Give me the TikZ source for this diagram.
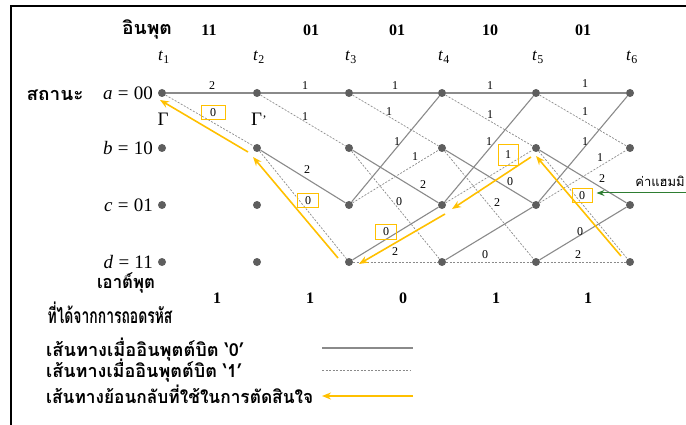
\documentclass[tikz,border=0pt]{standalone}
\usepackage{fontspec}
\usepackage{graphicx}
\setmainfont{Liberation Serif}
\newfontfamily\thai[Script=Thai]{Loma}
\usetikzlibrary{arrows.meta,calc}
\definecolor{edgegray}{HTML}{8A8A8A}
\definecolor{dotgray}{HTML}{5E5E5E}
\definecolor{backorange}{HTML}{FFC000}
\definecolor{markgreen}{HTML}{2E7D32}
% set a text to a given width, keeping its natural height
\newcommand{\fitto}[2]{\resizebox{#1}{\height}{#2}}
\begin{document}
\begin{tikzpicture}[x=1pt,y=-1pt,
  dot/.style={circle,fill=dotgray,inner sep=0pt,minimum size=8pt},
  zero/.style={draw=edgegray,line width=1.1pt},
  one/.style={draw=edgegray,line width=0.7pt,dash pattern=on 2pt off 1.5pt},
  back/.style={draw=backorange,line width=1.6pt,-{Stealth[length=9pt,width=7pt]}},
  lbl/.style={font=\fontsize{12}{12}\selectfont,inner sep=0pt},
  boxlbl/.style={draw=backorange,line width=1pt,font=\fontsize{12}{12}\selectfont,
    minimum width=21pt,minimum height=14pt,inner sep=0pt},
  bitin/.style={font=\fontsize{16}{16}\selectfont\bfseries,inner sep=0pt},
  tlab/.style={font=\fontsize{17}{17}\selectfont,inner sep=0pt},
  state/.style={font=\fontsize{19}{19}\selectfont,inner sep=0pt,anchor=east},
  thaibold/.style={font=\fontsize{18}{18}\selectfont\thai\bfseries,inner sep=0pt}]
\useasboundingbox (0,0) rectangle (686,425);
\clip (0,0) rectangle (686,425);

% outer frame (top and left rules)
\draw[line width=2pt] (11,425) -- (11,6) -- (686,6);

% trellis nodes
\foreach \k/\x in {1/162,2/257,3/349,4/442,5/536,6/630}{
  \node[dot] (a\k) at (\x,93) {};
  \node[dot] (b\k) at (\x,148) {};
  \node[dot] (c\k) at (\x,205) {};
  \node[dot] (d\k) at (\x,262) {};
  \node[tlab] (t\k) at (\x+2,57) {\textit{t}\textsubscript{\k}};
}

% branches: solid = input bit 0, dashed = input bit 1
\draw[zero] (a1) -- (a2);
\draw[one]  (a1) -- (b2);
\draw[zero] (a2) -- (a3);
\draw[one]  (a2) -- (b3);
\draw[zero] (b2) -- (c3);
\draw[one]  (b2) -- (d3);
\foreach \k/\n in {3/4,4/5,5/6}{
  \draw[zero] (a\k) -- (a\n);
  \draw[one]  (a\k) -- (b\n);
  \draw[zero] (b\k) -- (c\n);
  \draw[one]  (b\k) -- (d\n);
  \draw[zero] (c\k) -- (a\n);
  \draw[one]  (c\k) -- (b\n);
  \draw[zero] (d\k) -- (c\n);
  \draw[one]  (d\k) -- (d\n);
}

% branch metrics
\node[lbl] (m12aa) at (212,86) {2};
\node[boxlbl,minimum width=24pt] (m12ab) at (213,113) {0};
\node[lbl] (m23aa) at (305,86) {1};
\node[lbl] (m23ab) at (305,117) {1};
\node[lbl] (m23bc) at (307,170) {2};
\node[boxlbl] (m23bd) at (308,201) {0};
\node[lbl] (m34aa) at (395,86) {1};
\node[lbl] (m34ab) at (389,112) {1};
\node[lbl] (m34ca) at (397,142) {1};
\node[lbl] (m34cb) at (415,157) {1};
\node[lbl] (m34bc) at (423,185) {2};
\node[lbl] (m34bd) at (399,202) {0};
\node[boxlbl] (m34dc) at (386,232) {0};
\node[lbl] (m34dd) at (395,252) {2};
\node[lbl] (m45aa) at (490,86) {1};
\node[lbl] (m45ab) at (490,115) {1};
\node[lbl] (m45ca) at (489,142) {1};
\node[boxlbl,minimum width=20pt,minimum height=21pt] (m45cb) at (508,155) {1};
\node[lbl] (m45bc) at (510,182) {0};
\node[lbl] (m45bd) at (497,203) {2};
\node[lbl] (m45dd) at (485,255) {0};
\node[lbl] (m56aa) at (585,84) {1};
\node[lbl] (m56ab) at (585,112) {1};
\node[lbl] (m56ca) at (585,142) {1};
\node[lbl] (m56cb) at (600,158) {1};
\node[lbl] (m56bc) at (602,179) {2};
\node[boxlbl,minimum width=20pt] (m56bd) at (582,196) {0};
\node[lbl] (m56dc) at (580,232) {0};
\node[lbl] (m56dd) at (578,255) {2};

% traceback path
\draw[back] ([shift={(-9pt,6pt)}]d6.center) -- ([shift={(0pt,-8pt)}]b5.center);
\draw[back] ([shift={(-5pt,-9pt)}]b5.center) -- ([shift={(10pt,-4pt)}]c4.center);
\draw[back] ([shift={(3pt,-9pt)}]c4.center) -- ([shift={(10pt,-2pt)}]d3.center);
\draw[back] ([shift={(-11pt,4pt)}]d3.center) -- ([shift={(-4pt,-9pt)}]b2.center);
\draw[back] ([shift={(-9pt,-4pt)}]b2.center) -- ([shift={(-2pt,-7pt)}]a1.center);

% Gamma marks
\node[font=\fontsize{19}{19}\selectfont,inner sep=0pt] (g1) at (163,119) {Γ};
\node[font=\fontsize{19}{19}\selectfont,inner sep=0pt] (g2) at (259,119) {Γ\kern0.3pt\raisebox{1pt}{\fontsize{13}{13}\selectfont'}};

% input sequence
\node[thaibold] (inlab) at (147,29) {\fitto{50pt}{อินพุต}};
\foreach \x/\v [count=\i] in {209/11,311/01,397/01,490/10,583/01}
  \node[bitin] (in\i) at (\x,30) {\v};

% state names
\node[thaibold] (stlab) at (55,95) {\fitto{57pt}{สถานะ}};
\node[state] (sa) at (153,93) {\textit{a}\;=\;00};
\node[state] (sb) at (153,148) {\textit{b}\;=\;10};
\node[state] (sc) at (153,205) {\textit{c}\;=\;01};
\node[state] (sd) at (153,262) {\textit{d}\;=\;11};
\node[font=\fontsize{6}{6}\selectfont\itshape,inner sep=0pt] (sdmark) at (126,276) {d};

% decoded output
\node[thaibold] (outlab1) at (126,283) {\fitto{58pt}{เอาต์พุต}};
\node[thaibold,font=\fontsize{21}{21}\selectfont\thai\bfseries] (outlab2) at (110,313) {\fitto{125pt}{ที่ได้จากการถอดรหัส}};
\foreach \x/\v [count=\i] in {217/1,310/1,403/0,496/1,588/1}
  \node[bitin] (out\i) at (\x,298) {\v};

% legend
\node[thaibold,anchor=west] (leg0) at (46,350) {\fitto{198pt}{เส้นทางเมื่ออินพุตต์บิต ‘0’}};
\node[thaibold,anchor=west] (leg1) at (46,371) {\fitto{196pt}{เส้นทางเมื่ออินพุตต์บิต ‘1’}};
\node[thaibold,anchor=west] (leg2) at (46,394) {\fitto{267pt}{เส้นทางย้อนกลับที่ใช้ในการตัดสินใจ}};
\coordinate (k0a) at (322,348);
\coordinate (k0b) at (413,348);
\coordinate (k1a) at (322,370);
\coordinate (k1b) at (410,370);
\coordinate (k2a) at (413,396);
\coordinate (k2b) at (322,396);
\draw[zero] (k0a) -- (k0b);
\draw[one] (k1a) -- (k1b);
\draw[back] (k2a) -- (k2b);

% accumulated Hamming distance marker
\coordinate (gstart) at (690,193);
\node[font=\fontsize{13}{13}\selectfont\thai,inner sep=0pt,anchor=east] (hamtext) at (685,181) {ค่าแฮมมิ};
\draw[markgreen,line width=1pt,-{Stealth[length=8pt,width=6pt]}] (gstart) -- ([xshift=4pt,yshift=3pt]m56bd.east);
\end{tikzpicture}
\end{document}
